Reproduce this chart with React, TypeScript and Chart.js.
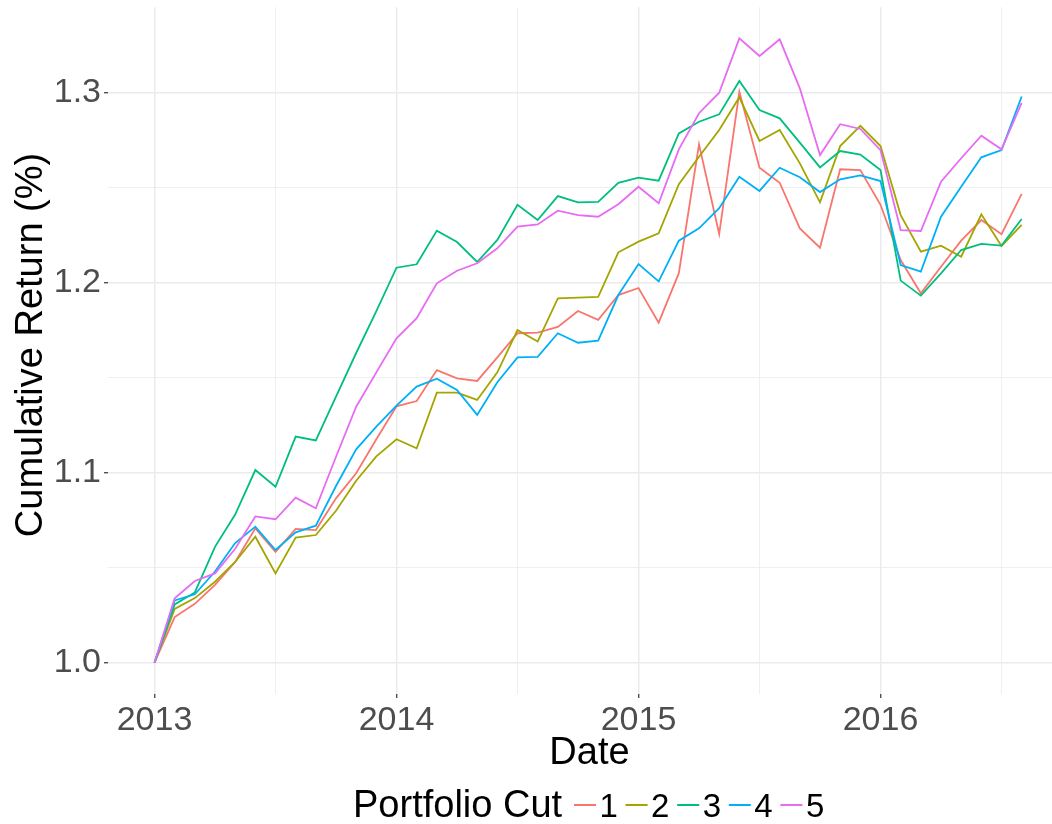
import React, { useEffect, useRef } from "react";
import { Chart, registerables } from "chart.js";

Chart.register(...registerables);

// ---------- data ----------
const DATES = [
  "2013-01", "2013-02", "2013-03", "2013-04", "2013-05", "2013-06", "2013-07", "2013-08", "2013-09", "2013-10", "2013-11", "2013-12",
  "2014-01", "2014-02", "2014-03", "2014-04", "2014-05", "2014-06", "2014-07", "2014-08", "2014-09", "2014-10", "2014-11", "2014-12",
  "2015-01", "2015-02", "2015-03", "2015-04", "2015-05", "2015-06", "2015-07", "2015-08", "2015-09", "2015-10", "2015-11", "2015-12",
  "2016-01", "2016-02", "2016-03", "2016-04", "2016-05", "2016-06", "2016-07", "2016-08",
];

const CUT_1 = [
  1.0, 1.024, 1.031, 1.041, 1.053, 1.0707, 1.0583, 1.0704, 1.0698, 1.0865, 1.0997, 1.1176,
  1.1349, 1.1377, 1.154, 1.1497, 1.1483, 1.1607, 1.1734, 1.1737, 1.1767, 1.1851, 1.1804, 1.1935,
  1.1972, 1.179, 1.205, 1.2728, 1.2256, 1.3005, 1.2605, 1.2526, 1.2286, 1.2184, 1.2597, 1.2593,
  1.241, 1.2119, 1.1944, 1.2084, 1.2221, 1.233, 1.2255, 1.2467,
];
const CUT_2 = [
  1.0, 1.0283, 1.034, 1.0426, 1.053, 1.0663, 1.047, 1.0658, 1.0672, 1.08, 1.0958, 1.1086,
  1.1176, 1.1128, 1.1421, 1.1421, 1.1383, 1.1528, 1.1751, 1.169, 1.1918, 1.1921, 1.1925, 1.216,
  1.2216, 1.226, 1.2518, 1.2663, 1.2804, 1.2976, 1.2746, 1.2804, 1.2628, 1.2423, 1.2719, 1.2826,
  1.2719, 1.2356, 1.2163, 1.2195, 1.2137, 1.236, 1.2193, 1.2304,
];
const CUT_3 = [
  1.0, 1.0307, 1.037, 1.061, 1.078, 1.1014, 1.0926, 1.119, 1.117, 1.14, 1.163, 1.185,
  1.2079, 1.2097, 1.2274, 1.2214, 1.2109, 1.2225, 1.241, 1.233, 1.2456, 1.2423, 1.2425, 1.2526,
  1.2553, 1.2537, 1.2786, 1.2847, 1.2886, 1.3062, 1.2909, 1.2865, 1.2737, 1.2607, 1.2693, 1.2674,
  1.2593, 1.2011, 1.1932, 1.2049, 1.2172, 1.2204, 1.2195, 1.2335,
];
const CUT_4 = [
  1.0, 1.0328, 1.036, 1.048, 1.063, 1.0716, 1.0593, 1.0686, 1.0721, 1.093, 1.1123, 1.1242,
  1.1353, 1.1453, 1.1495, 1.1435, 1.1304, 1.1476, 1.1607, 1.161, 1.1734, 1.1684, 1.1695, 1.1935,
  1.2098, 1.2007, 1.2221, 1.2286, 1.2392, 1.2558, 1.2483, 1.2605, 1.2555, 1.2477, 1.2544, 1.2565,
  1.2535, 1.2093, 1.2058, 1.2347, 1.2505, 1.266, 1.2698, 1.298,
];
const CUT_5 = [
  1.0, 1.0339, 1.043, 1.047, 1.06, 1.077, 1.0755, 1.0869, 1.0813, 1.1084, 1.1347, 1.1528,
  1.1707, 1.1813, 1.1997, 1.2063, 1.2102, 1.2181, 1.2295, 1.2307, 1.2379, 1.2356, 1.2347, 1.2413,
  1.2505, 1.2418, 1.2702, 1.2892, 1.3, 1.3286, 1.3193, 1.3281, 1.3023, 1.2672, 1.2834, 1.2809,
  1.2698, 1.2277, 1.2272, 1.2532, 1.2655, 1.2774, 1.2702, 1.2946,
];

const SERIES_NAMES = ["1", "2", "3", "4", "5"];
const SERIES_VALUES = [CUT_1, CUT_2, CUT_3, CUT_4, CUT_5];
const COLORS = ["#F8766D", "#A3A500", "#00BF7D", "#00B0F6", "#E76BF3"];

const X_TICK_YEARS = ["2013", "2014", "2015", "2016"];
const Y_TICKS = [1.0, 1.1, 1.2, 1.3];
const Y_MINOR_TICKS = [1.05, 1.15, 1.25];

const X_TITLE = "Date";
const Y_TITLE = "Cumulative Return (%)";
const LEGEND_TITLE = "Portfolio Cut";

// ---------- layout ----------
const W = 1052;
const H = 824;
const PANEL_LEFT = 108;
const PANEL_TOP = 7.2;
const PANEL_BOTTOM = 693.9;
const PX_PER_MONTH = 20.167;
const FIRST_POINT_PX = 154.5;
const X_MIN = -(FIRST_POINT_PX - PANEL_LEFT) / PX_PER_MONTH;
const X_MAX = X_MIN + (W - PANEL_LEFT) / PX_PER_MONTH;
const Y_MIN = 0.98358;
const Y_MAX = 1.345;

const FONT = "'Liberation Sans', Arial, Helvetica, sans-serif";

function monthOffset(d: string): number {
  const [y, m] = d.split("-").map(Number);
  return (y - 2013) * 12 + (m - 1);
}

function isMajorY(v: number) {
  return Y_TICKS.some((t) => Math.abs(t - v) < 1e-6);
}
function isMajorX(v: number) {
  return Math.abs(v % 12) < 1e-6;
}

const decorPlugin = {
  id: "decor",
  afterDraw(chart: any) {
    const ctx = chart.ctx as CanvasRenderingContext2D;
    ctx.save();
    ctx.fillStyle = "#000000";
    // x title
    ctx.font = `38px ${FONT}`;
    ctx.textAlign = "center";
    ctx.textBaseline = "alphabetic";
    ctx.fillText(X_TITLE, 589.5, 763.5);
    // y title
    ctx.save();
    ctx.translate(42, 345);
    ctx.rotate(-Math.PI / 2);
    ctx.fillText(Y_TITLE, 0, 0);
    ctx.restore();
    // legend
    ctx.textAlign = "left";
    ctx.fillText(LEGEND_TITLE, 353, 817.3);
    const keyStart = 574;
    const pitch = 51.6;
    const keyLen = 22;
    ctx.font = `33px ${FONT}`;
    SERIES_NAMES.forEach((name, i) => {
      const x0 = keyStart + i * pitch;
      ctx.strokeStyle = COLORS[i];
      ctx.lineWidth = 2;
      ctx.beginPath();
      ctx.moveTo(x0, 805);
      ctx.lineTo(x0 + keyLen, 805);
      ctx.stroke();
      ctx.fillStyle = "#000000";
      ctx.fillText(name, x0 + keyLen + 3.5, 817.3);
    });
    ctx.restore();
  },
};

export default function App() {
  const ref = useRef<HTMLCanvasElement | null>(null);

  useEffect(() => {
    if (!ref.current) return;
    const datasets = SERIES_VALUES.map((vals, i) => ({
      label: SERIES_NAMES[i],
      data: vals.map((v, j) => ({ x: monthOffset(DATES[j]), y: v })),
      borderColor: COLORS[i],
      backgroundColor: COLORS[i],
      borderWidth: 1.8,
      pointRadius: 0,
      pointHoverRadius: 0,
      tension: 0,
      fill: false,
      order: SERIES_NAMES.length - 1 - i,
    }));

    const xTicks: number[] = [];
    X_TICK_YEARS.forEach((y) => {
      const m = (Number(y) - 2013) * 12;
      xTicks.push(m, m + 6);
    });
    const yTicks = [...Y_TICKS, ...Y_MINOR_TICKS].sort((a, b) => a - b);

    const chart = new Chart(ref.current, {
      type: "line",
      data: { datasets },
      options: {
        animation: false,
        responsive: false,
        devicePixelRatio: 1,
        events: [],
        layout: { padding: { top: PANEL_TOP, left: 0, right: 0, bottom: 0 } },
        plugins: {
          legend: { display: false },
          tooltip: { enabled: false },
        },
        scales: {
          x: {
            type: "linear",
            min: X_MIN,
            max: X_MAX,
            border: { display: false },
            afterBuildTicks: (scale: any) => {
              scale.ticks = xTicks.map((v) => ({ value: v }));
            },
            afterFit: (scale: any) => {
              scale.height = H - PANEL_BOTTOM;
              scale.paddingLeft = 0;
              scale.paddingRight = 0;
            },
            grid: {
              color: "#EBEBEB",
              lineWidth: (c: any) => (isMajorX(c.tick?.value ?? 0) ? 1.5 : 0.8),
              drawTicks: true,
              tickLength: 4,
              tickWidth: 1.2,
              tickColor: (c: any) => (isMajorX(c.tick?.value ?? 0) ? "#333333" : "rgba(0,0,0,0)"),
            },
            ticks: {
              autoSkip: false,
              maxRotation: 0,
              minRotation: 0,
              padding: 2,
              color: "#4D4D4D",
              font: { family: FONT, size: 34 },
              callback: (v: any) => (isMajorX(Number(v)) ? X_TICK_YEARS[Number(v) / 12] : ""),
            },
          },
          y: {
            type: "linear",
            min: Y_MIN,
            max: Y_MAX,
            border: { display: false },
            afterBuildTicks: (scale: any) => {
              scale.ticks = yTicks.map((v) => ({ value: v }));
            },
            afterFit: (scale: any) => {
              scale.width = PANEL_LEFT;
              scale.paddingTop = 0;
              scale.paddingBottom = 0;
            },
            grid: {
              color: "#EBEBEB",
              lineWidth: (c: any) => (isMajorY(c.tick?.value ?? 0) ? 1.5 : 0.8),
              drawTicks: true,
              tickLength: 4,
              tickWidth: 1.2,
              tickColor: (c: any) => (isMajorY(c.tick?.value ?? 0) ? "#333333" : "rgba(0,0,0,0)"),
            },
            ticks: {
              autoSkip: false,
              padding: 3,
              color: "#4D4D4D",
              font: { family: FONT, size: 34 },
              callback: (v: any) => (isMajorY(Number(v)) ? Number(v).toFixed(1) : ""),
            },
          },
        },
      },
      plugins: [decorPlugin],
    });
    return () => chart.destroy();
  }, []);

  return (
    <div style={{ position: "absolute", left: 0, top: 0, width: W, height: H, background: "#ffffff" }}>
      <canvas ref={ref} width={W} height={H} style={{ display: "block", width: W, height: H }} />
    </div>
  );
}
